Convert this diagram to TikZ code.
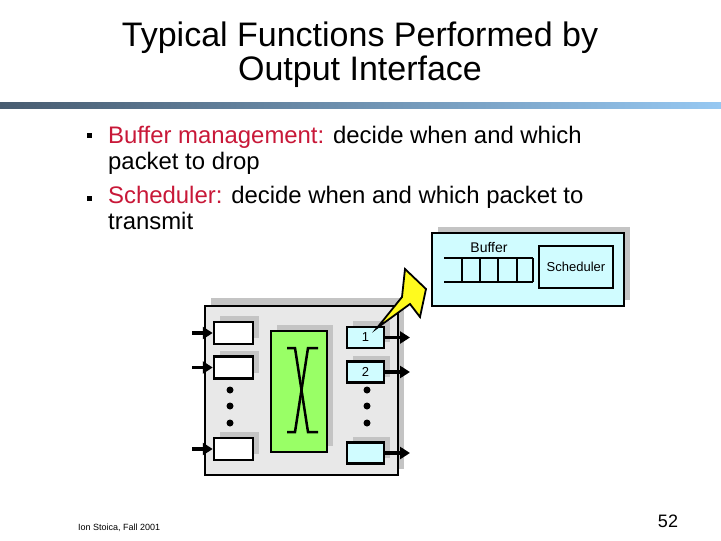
\documentclass[tikz,border=0pt]{standalone}
\usepackage{fontspec}
\setmainfont{Liberation Sans}
\usetikzlibrary{shadows,arrows.meta}

\definecolor{oiRed}{RGB}{200,24,56}
\definecolor{oiCyan}{RGB}{208,252,255}
\definecolor{oiGreen}{RGB}{153,255,102}
\definecolor{oiGrey}{RGB}{232,232,232}
\definecolor{oiShadow}{RGB}{196,196,196}
\definecolor{oiYellow}{RGB}{255,250,30}
\definecolor{oiBarL}{RGB}{72,92,112}
\definecolor{oiBarR}{RGB}{150,200,242}

\tikzset{
  box/.style={draw=black, line width=2.5pt, inner sep=0pt,
    general shadow={fill=oiShadow, shadow xshift=6pt, shadow yshift=6pt}},
  inq/.style={box, fill=white, minimum width=39pt, minimum height=22pt},
  outq/.style={box, fill=oiCyan, minimum width=37pt, minimum height=21pt, font=\fontsize{13}{13}\selectfont},
  pktarrow/.style={-{Triangle[length=10pt,width=12pt]}, line width=3.5pt},
  dot/.style={fill=black, circle, inner sep=0pt, minimum size=7pt},
  titletext/.style={anchor=base, inner sep=0pt, font=\fontsize{34}{34}\selectfont},
  bullettext/.style={anchor=base west, inner sep=0pt, font=\fontsize{23.9}{23.9}\selectfont}
}

\begin{document}
\begin{tikzpicture}[x=1pt, y=-1pt]

  \useasboundingbox (0,0) rectangle (721,541);

  % ---- title ----
  \node[titletext] (title1) at (360,46) {Typical Functions Performed by};
  \node[titletext] (title2) at (360,80) {Output Interface};
  \shade[left color=oiBarL, right color=oiBarR] (0,102) rectangle (721,108);

  % ---- bullets ----
  \fill (87,133) rectangle (92,138);
  \fill (87,196) rectangle (92,201);
  \node[bullettext] (b1a) at (108,143) {\textcolor{oiRed}{Buffer management:} decide when and which};
  \node[bullettext] (b1b) at (108,169) {packet to drop};
  \node[bullettext] (b2a) at (108,203) {\textcolor{oiRed}{Scheduler:} decide when and which packet to};
  \node[bullettext] (b2b) at (108,229) {transmit};

  % ---- output interface (zoom) ----
  \node[box, fill=oiCyan, minimum width=192pt, minimum height=73pt] (outif) at (528,269.5) {};
  \node[font=\fontsize{14}{14}\selectfont] (buflbl) at (489,247) {Buffer};
  \draw[line width=1.8pt] (444,258) -- (533,258) (444,282) -- (533,282);
  \foreach \x in {462,480,498,517,533}
    \draw[line width=1.8pt] (\x,258) -- (\x,282);
  \node[draw=black, line width=2.5pt, fill=oiCyan, minimum width=74pt, minimum height=42pt,
    font=\fontsize{13}{13}\selectfont] (sched) at (576,267) {Scheduler};

  % ---- router ----
  \node[box, fill=oiGrey, minimum width=193pt, minimum height=169pt,
    general shadow={fill=oiShadow, shadow xshift=6pt, shadow yshift=8pt}] (router) at (301.5,390.5) {};
  \node[inq] (in1) at (233.5,333) {};
  \node[inq] (in2) at (233.5,367.5) {};
  \node[inq] (in3) at (233.5,449) {};
  \node[box, fill=oiGreen, minimum width=56pt, minimum height=121pt] (switch) at (299,391.5) {};
  \draw[line width=2.5pt] (287,348) -- (295,348) -- (308,432) -- (318,432);
  \draw[line width=2.5pt] (318,348) -- (308,348) -- (295,432) -- (287,432);
  \node[outq] (out1) at (365.5,337.5) {1};
  \node[outq] (out2) at (365.5,372) {2};
  \node[outq] (out3) at (365.5,453) {};

  \foreach \y in {390,406,423} {
    \node[dot] at (230,\y) {};
    \node[dot] at (367,\y) {};
  }

  % ---- links ----
  \coordinate (src1) at (192,333);
  \coordinate (src2) at (192,367.5);
  \coordinate (src3) at (192,449);
  \coordinate (dst1) at (410,337.5);
  \coordinate (dst2) at (410,372);
  \coordinate (dst3) at (410,453);
  \draw[pktarrow] (src1) -- (in1);
  \draw[pktarrow] (src2) -- (in2);
  \draw[pktarrow] (src3) -- (in3);
  \draw[pktarrow] (out1) -- (dst1);
  \draw[pktarrow] (out2) -- (dst2);
  \draw[pktarrow] (out3) -- (dst3);

  % ---- callout ----
  \filldraw[fill=oiYellow, draw=black, line width=1.8pt, line join=miter]
    (377,328) -- (402,297) -- (405,269) -- (426,289) -- (420,317) -- (410,304) -- cycle;

  % ---- footer ----
  \node[anchor=base west, inner sep=0pt, font=\fontsize{9}{9}\selectfont] (author) at (78,530) {Ion Stoica, Fall 2001};
  \node[anchor=base, inner sep=0pt, font=\fontsize{18}{18}\selectfont] (page) at (668,527) {52};

\end{tikzpicture}
\end{document}
